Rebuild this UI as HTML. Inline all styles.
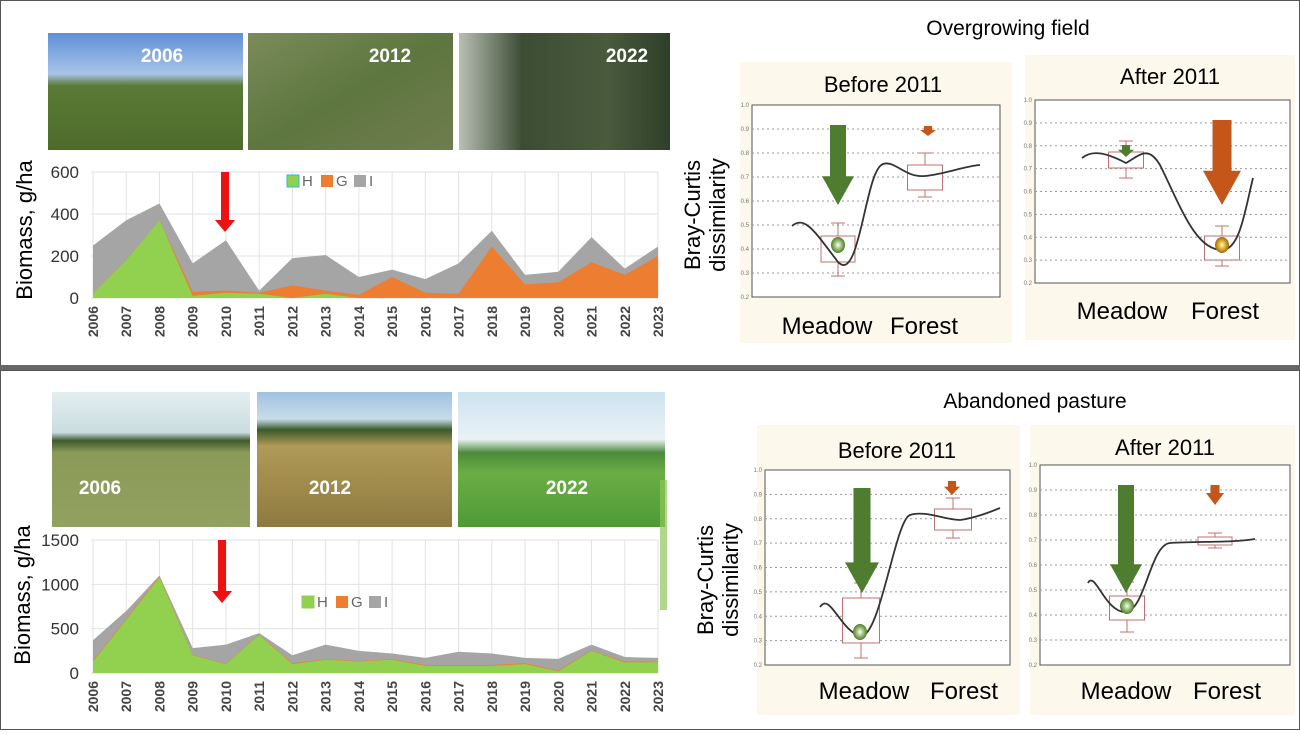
<!DOCTYPE html>
<html><head><meta charset="utf-8"><style>
html,body{margin:0;padding:0;background:#fff;}
body{width:1300px;height:730px;overflow:hidden;font-family:"Liberation Sans",Arial,sans-serif;}
</style></head><body>
<svg id="s" width="1300" height="730" xmlns="http://www.w3.org/2000/svg" font-family="Liberation Sans, Arial, sans-serif">
<defs>
<linearGradient id="p1" x1="0" y1="0" x2="0" y2="1"><stop offset="0" stop-color="#5f8fd6"/><stop offset="0.35" stop-color="#a9c4e8"/><stop offset="0.45" stop-color="#5a7a35"/><stop offset="1" stop-color="#4f6b2c"/></linearGradient>
<linearGradient id="p2" x1="0" y1="0" x2="1" y2="1"><stop offset="0" stop-color="#7a8c5a"/><stop offset="0.5" stop-color="#5e7640"/><stop offset="1" stop-color="#6f7d4e"/></linearGradient>
<linearGradient id="p3" x1="0" y1="0" x2="1" y2="0"><stop offset="0" stop-color="#b8bfb4"/><stop offset="0.3" stop-color="#3c4d34"/><stop offset="0.7" stop-color="#4a5a3c"/><stop offset="1" stop-color="#2e3f2a"/></linearGradient>
<linearGradient id="q1" x1="0" y1="0" x2="0" y2="1"><stop offset="0" stop-color="#e4eef0"/><stop offset="0.3" stop-color="#c9dde0"/><stop offset="0.36" stop-color="#3f5a2e"/><stop offset="0.45" stop-color="#8c9a58"/><stop offset="1" stop-color="#92a160"/></linearGradient>
<linearGradient id="q2" x1="0" y1="0" x2="0" y2="1"><stop offset="0" stop-color="#9fc2e0"/><stop offset="0.2" stop-color="#c7dcea"/><stop offset="0.28" stop-color="#3a5a2a"/><stop offset="0.4" stop-color="#b09a58"/><stop offset="1" stop-color="#8e7a40"/></linearGradient>
<linearGradient id="q3" x1="0" y1="0" x2="0" y2="1"><stop offset="0" stop-color="#cde3f0"/><stop offset="0.35" stop-color="#eaf2f5"/><stop offset="0.45" stop-color="#4c8a3a"/><stop offset="0.6" stop-color="#6aae44"/><stop offset="1" stop-color="#4f9a36"/></linearGradient>
<radialGradient id="gb"><stop offset="0" stop-color="#ffffff"/><stop offset="0.5" stop-color="#9ec07a"/><stop offset="1" stop-color="#4f7b2f"/></radialGradient>
<radialGradient id="yb"><stop offset="0" stop-color="#fff6c0"/><stop offset="0.5" stop-color="#e0b030"/><stop offset="1" stop-color="#9a6a10"/></radialGradient>
</defs>
<rect x="0.5" y="0.5" width="1299" height="365" fill="#fff" stroke="#555"/>
<rect x="0.5" y="370.5" width="1299" height="359" fill="#fff" stroke="#555"/>
<rect x="0" y="365" width="1300" height="5" fill="#666"/>
<rect x="48" y="33" width="195" height="117" fill="url(#p1)"/>
<text x="162" y="62" font-size="19" font-weight="bold" fill="#fff" text-anchor="middle">2006</text>
<rect x="248" y="33" width="205" height="117" fill="url(#p2)"/>
<text x="390" y="62" font-size="19" font-weight="bold" fill="#fff" text-anchor="middle">2012</text>
<rect x="459" y="33" width="211" height="117" fill="url(#p3)"/>
<text x="627" y="62" font-size="19" font-weight="bold" fill="#fff" text-anchor="middle">2022</text>
<rect x="52" y="392" width="198" height="135" fill="url(#q1)"/>
<text x="100" y="494" font-size="19" font-weight="bold" fill="#fff" text-anchor="middle">2006</text>
<rect x="257" y="392" width="195" height="135" fill="url(#q2)"/>
<text x="330" y="494" font-size="19" font-weight="bold" fill="#fff" text-anchor="middle">2012</text>
<rect x="458" y="392" width="207" height="135" fill="url(#q3)"/>
<text x="567" y="494" font-size="19" font-weight="bold" fill="#fff" text-anchor="middle">2022</text>
<rect x="660" y="480" width="7" height="130" fill="#8fc85a" opacity="0.7"/>
<g id="c1"></g><g id="c2"></g>
<text transform="translate(32,230) rotate(-90)" font-size="22" text-anchor="middle">Biomass, g/ha</text>
<text transform="translate(30,595) rotate(-90)" font-size="22" text-anchor="middle">Biomass, g/ha</text>
<text x="1008" y="35" font-size="21" text-anchor="middle">Overgrowing field</text>
<text x="1035" y="408" font-size="21" text-anchor="middle">Abandoned pasture</text>
<rect x="740" y="62" width="272" height="281" fill="#fdf8ec"/>
<rect x="1025" y="55" width="270" height="285" fill="#fdf8ec"/>
<rect x="757" y="425" width="263" height="290" fill="#fdf8ec"/>
<rect x="1030" y="425" width="265" height="290" fill="#fdf8ec"/>
<text x="883" y="92" font-size="22" text-anchor="middle">Before 2011</text>
<text x="1170" y="84" font-size="22" text-anchor="middle">After 2011</text>
<text x="897" y="458" font-size="22" text-anchor="middle">Before 2011</text>
<text x="1165" y="455" font-size="22" text-anchor="middle">After 2011</text>
<text transform="translate(700,215) rotate(-90)" font-size="22" text-anchor="middle">Bray-Curtis</text>
<text transform="translate(725,215) rotate(-90)" font-size="22" text-anchor="middle">dissimilarity</text>
<text transform="translate(713,580) rotate(-90)" font-size="22" text-anchor="middle">Bray-Curtis</text>
<text transform="translate(738,580) rotate(-90)" font-size="22" text-anchor="middle">dissimilarity</text>
<g font-size="24" text-anchor="middle">
<text x="827" y="334">Meadow</text>
<text x="924" y="334">Forest</text>
<text x="1122" y="319">Meadow</text>
<text x="1225" y="319">Forest</text>
<text x="864" y="699">Meadow</text>
<text x="964" y="699">Forest</text>
<text x="1126" y="699">Meadow</text>
<text x="1227" y="699">Forest</text>
</g>
<g id="bx"></g>
</svg>
<script>
var S=document.getElementById('s'),NS='http://www.w3.org/2000/svg';
function el(p,t,a,txt){var e=document.createElementNS(NS,t);for(var k in a)e.setAttribute(k,a[k]);if(txt!=null)e.textContent=txt;p.appendChild(e);return e;}
function chart(g,x0,x1,y0,y1,max,ticks,T,G,H,legX,legY,hcol,arrowX,arrowY0,arrowY1){
 g=document.getElementById(g);
 var n=18,dx=(x1-x0)/(n-1);
 function X(i){return x0+i*dx;} function Y(v){return y1-(v/max)*(y1-y0);}
 for(var i=0;i<n;i++)el(g,'line',{x1:X(i),x2:X(i),y1:y0,y2:y1,stroke:'#e2e2e2'});
 ticks.forEach(function(t){el(g,'line',{x1:x0-2,x2:x1,y1:Y(t),y2:Y(t),stroke:'#e2e2e2'});
  el(g,'text',{x:x0-14,y:Y(t)+6,'font-size':17,'text-anchor':'end',fill:'#333'},t);});
 function area(v,c){var d='M'+X(0)+','+y1;for(var i=0;i<n;i++)d+='L'+X(i)+','+Y(v[i]);d+='L'+X(n-1)+','+y1+'Z';el(g,'path',{d:d,fill:c});}
 area(T,'#a5a5a5');area(G,'#ed7d31');area(H,'#92d050');
 for(var i=0;i<n;i++)el(g,'text',{transform:'translate('+(X(i)+5)+','+(y1+8)+') rotate(-90)','font-size':14,'font-weight':'bold','text-anchor':'end',fill:'#444'},2006+i);
 el(g,'rect',{x:legX,y:legY-11,width:12,height:12,fill:'#92d050',stroke:hcol});
 el(g,'text',{x:legX+15,y:legY,'font-size':15,fill:'#666'},'H');
 el(g,'rect',{x:legX+34,y:legY-11,width:12,height:12,fill:'#ed7d31'});
 el(g,'text',{x:legX+49,y:legY,'font-size':15,fill:'#666'},'G');
 el(g,'rect',{x:legX+67,y:legY-11,width:12,height:12,fill:'#a5a5a5'});
 el(g,'text',{x:legX+82,y:legY,'font-size':15,fill:'#666'},'I');
 var ax=arrowX;el(g,'path',{d:'M'+(ax-4)+','+arrowY0+'h8v'+(arrowY1-arrowY0-12)+'h6l-10,12l-10,-12h6z',fill:'#ee1111'});
}
chart('c1',93,658,172,298,600,[0,200,400,600],
 [250,370,450,165,275,35,190,205,100,135,90,165,320,110,125,290,140,245],
 [20,180,370,30,35,25,60,35,15,100,25,20,245,65,75,170,110,200],
 [20,180,370,10,25,20,0,20,0,0,0,0,0,0,0,0,0,0],287,186,'#22bbee',225,172,232);
chart('c2',93,658,540,673,1500,[0,500,1000,1500],
 [370,700,1100,280,320,450,200,320,250,220,170,240,220,170,160,320,180,170],
 [140,610,1090,205,105,435,110,155,135,155,90,90,90,110,30,255,130,125],
 [130,600,1080,200,100,430,100,150,130,150,80,80,80,100,20,250,120,120],302,607,'#92d050',222,540,603);
var bx=document.getElementById('bx');
function panel(x0,x1,y0,y1){
 el(bx,'rect',{x:x0,y:y0,width:x1-x0,height:y1-y0,fill:'#fff',stroke:'#555'});
 for(var i=0;i<=8;i++){var y=y1-i*(y1-y0)/8;
  if(i>0&&i<8)el(bx,'line',{x1:x0,x2:x1,y1:y,y2:y,stroke:'#999','stroke-dasharray':'2,3'});
  el(bx,'text',{x:x0-3,y:y+2,'font-size':6,'text-anchor':'end',fill:'#777'},(0.2+i*0.1).toFixed(1));}
}
function box(cx,w,yb0,yb1,yw0,yw1){
 el(bx,'line',{x1:cx,x2:cx,y1:yw0,y2:yw1,stroke:'#c07070'});
 el(bx,'line',{x1:cx-7,x2:cx+7,y1:yw0,y2:yw0,stroke:'#c07070'});
 el(bx,'line',{x1:cx-7,x2:cx+7,y1:yw1,y2:yw1,stroke:'#c07070'});
 el(bx,'rect',{x:cx-w/2,y:yb0,width:w,height:yb1-yb0,fill:'#fff',stroke:'#c07070'});
}
function bigArrow(cx,y0,y1,c,w){w=w||34;var sw=w*0.5,hh=Math.min(w*0.9,(y1-y0)*0.6);
 el(bx,'path',{d:'M'+(cx-sw/2)+','+y0+'h'+sw+'v'+(y1-y0-hh)+'h'+(w-sw)/2+'l'+(-w/2)+','+hh+'l'+(-w/2)+','+(-hh)+'h'+(w-sw)/2+'z',fill:c});}
function curve(d){el(bx,'path',{d:d,fill:'none',stroke:'#333','stroke-width':1.8});}
panel(752,1000,105,297);
box(838,34,236,262,223,276);box(925,35,165,190,153,197);
bigArrow(838,125,205,'#4e7d2f',32);bigArrow(928,126,136,'#c5561a',16);
curve('M792,226 C805,215 815,232 838,262 C860,285 865,170 883,164 C895,160 905,178 925,176 C945,174 965,166 980,165');
el(bx,'ellipse',{cx:838,cy:245,rx:7,ry:8,fill:'url(#gb)'});
panel(1035,1290,100,283);
box(1126,35,152,168,141,178);box(1222,35,236,260,226,266);
bigArrow(1126,145,157,'#4e7d2f',16);bigArrow(1222,120,205,'#c5561a',38);
curve('M1082,158 C1092,150 1105,152 1126,163 C1140,155 1148,145 1160,165 C1180,205 1195,250 1222,250 C1240,250 1245,210 1253,178');
el(bx,'ellipse',{cx:1222,cy:245,rx:7,ry:8,fill:'url(#yb)'});
panel(765,1010,470,665);
box(861,37,598,643,583,658);box(953,37,509,530,498,538);
bigArrow(862,488,593,'#4e7d2f',34);bigArrow(952,481,495,'#c5561a',16);
curve('M820,607 C830,592 840,630 860,636 C880,640 895,520 910,515 C925,510 945,520 960,520 C975,518 990,512 1000,508');
el(bx,'ellipse',{cx:860,cy:632,rx:7,ry:8,fill:'url(#gb)'});
panel(1040,1290,465,665);
box(1127,35,596,620,582,632);box(1215,34,537,545,533,548);
bigArrow(1126,485,593,'#4e7d2f',32);bigArrow(1215,485,505,'#c5561a',18);
curve('M1088,583 C1095,570 1105,612 1125,612 C1145,612 1150,545 1170,543 C1200,541 1230,543 1255,539');
el(bx,'ellipse',{cx:1127,cy:606,rx:7,ry:8,fill:'url(#gb)'});
</script>
</body></html>
